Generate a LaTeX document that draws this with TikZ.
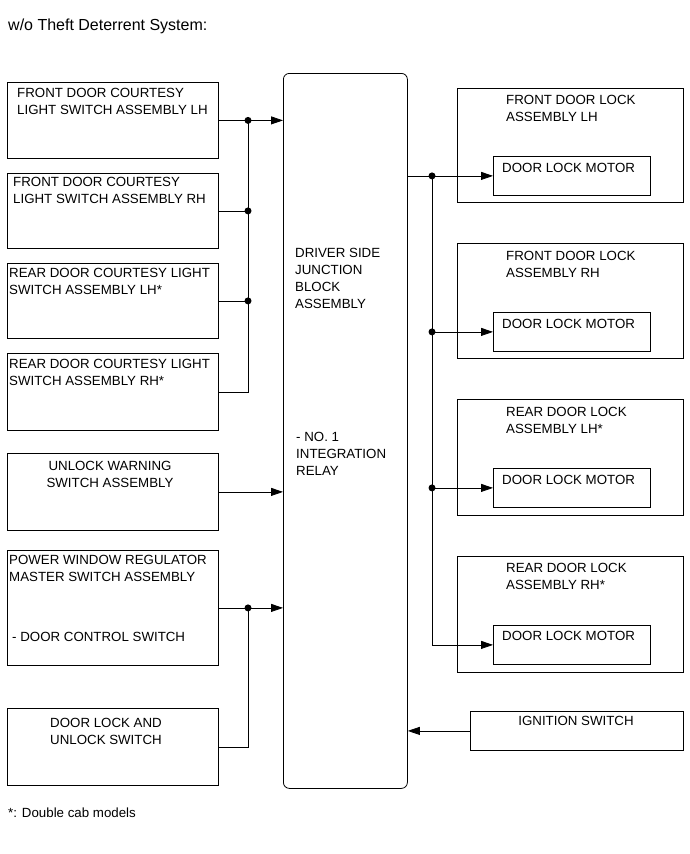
\documentclass[tikz,border=0pt]{standalone}
\usepackage{fontspec}
\setmainfont{Liberation Sans}
\usetikzlibrary{arrows.meta,positioning}

\begin{document}
\begin{tikzpicture}[x=1pt, y=-1pt, >={Triangle[length=12pt,width=8pt]},
  box/.style={draw, line width=0.8pt, inner sep=0pt, anchor=north west},
  txt/.style={align=left, inner sep=0pt, anchor=north west, font=\fontsize{13.3}{17}\selectfont},
  ctxt/.style={txt, align=center, anchor=north},
  dot/.style={circle, fill, inner sep=0pt, minimum size=7pt},
  wire/.style={line width=0.8pt}]
  \useasboundingbox (0,0) rectangle (690,854);

  \node[txt, font=\fontsize{16}{19}\selectfont] (title) at (8,19) {w/o Theft Deterrent System:};

  % switches on the left
  \node[box, minimum width=211, minimum height=76] (cl) at (7,82) {};
  \node[box, minimum width=211, minimum height=75] (cr) at (7,173) {};
  \node[box, minimum width=211, minimum height=75] (rl) at (7,263) {};
  \node[box, minimum width=211, minimum height=77] (rr) at (7,353) {};
  \node[box, minimum width=211, minimum height=77] (uw) at (7,453) {};
  \node[box, minimum width=211, minimum height=115] (pw) at (7,550) {};
  \node[box, minimum width=211, minimum height=77] (dl) at (7,708) {};
  \node[txt] (cl-t) at (17,88) {FRONT DOOR COURTESY\\LIGHT SWITCH ASSEMBLY LH};
  \node[txt] (cr-t) at (13,177) {FRONT DOOR COURTESY\\LIGHT SWITCH ASSEMBLY RH};
  \node[txt] (rl-t) at (9,268) {REAR DOOR COURTESY LIGHT\\SWITCH ASSEMBLY LH*};
  \node[txt] (rr-t) at (9,359) {REAR DOOR COURTESY LIGHT\\SWITCH ASSEMBLY RH*};
  \node[ctxt] (uw-t) at (110,461) {UNLOCK WARNING\\SWITCH ASSEMBLY};
  \node[txt] (pw-t) at (9,555) {POWER WINDOW REGULATOR\\MASTER SWITCH ASSEMBLY};
  \node[txt] (pw-s) at (12,632) {- DOOR CONTROL SWITCH};
  \node[ctxt] (dl-t) at (106,718) {DOOR LOCK AND\\UNLOCK SWITCH};

  % junction block
  \node[box, rounded corners=6pt, minimum width=124, minimum height=715] (jb) at (283,73) {};
  \node[txt] (jb-t) at (295,248) {DRIVER SIDE\\JUNCTION\\BLOCK\\ASSEMBLY};
  \node[txt] (jb-s) at (296,432) {- NO. 1\\INTEGRATION\\RELAY};

  % door locks on the right
  \node[box, minimum width=226, minimum height=114] (fl) at (457,88) {};
  \node[box, minimum width=226, minimum height=115] (fr) at (457,243) {};
  \node[box, minimum width=226, minimum height=116] (rlk) at (457,399) {};
  \node[box, minimum width=226, minimum height=116] (rrk) at (457,556) {};
  \node[box, minimum width=157, minimum height=39] (mfl) at (493,156) {};
  \node[box, minimum width=157, minimum height=39] (mfr) at (493,312) {};
  \node[box, minimum width=157, minimum height=39] (mrl) at (493,468) {};
  \node[box, minimum width=157, minimum height=39] (mrr) at (493,625) {};
  \node[txt] (fl-t) at (506,95) {FRONT DOOR LOCK\\ASSEMBLY LH};
  \node[txt] (fr-t) at (506,251) {FRONT DOOR LOCK\\ASSEMBLY RH};
  \node[txt] (rlk-t) at (506,407) {REAR DOOR LOCK\\ASSEMBLY LH*};
  \node[txt] (rrk-t) at (506,563) {REAR DOOR LOCK\\ASSEMBLY RH*};
  \node[txt] (mfl-t) at (502,163) {DOOR LOCK MOTOR};
  \node[txt] (mfr-t) at (502,319) {DOOR LOCK MOTOR};
  \node[txt] (mrl-t) at (502,475) {DOOR LOCK MOTOR};
  \node[txt] (mrr-t) at (502,631) {DOOR LOCK MOTOR};
  \node[box, minimum width=213, minimum height=39] (ig) at (470,711) {};
  \node[ctxt] (ig-t) at (576,716) {IGNITION SWITCH};

  \node[txt] (note) at (8,808) {*: Double cab models};

  % left wiring
  \coordinate (lbus) at (248,0);
  \draw[wire,->] (cl.east) -- (jb.west |- cl.east);
  \draw[wire] (cr.east) -- (lbus |- cr.east);
  \draw[wire] (rl.east) -- (lbus |- rl.east);
  \draw[wire] (lbus |- cl.east) -- (lbus |- rr.east) -- (rr.east);
  \foreach \b in {cl,cr,rl} \node[dot] (d-\b) at (lbus |- \b.east) {};
  \draw[wire,->] (uw.east) -- (jb.west |- uw.east);
  \draw[wire,->] (pw.east) -- (jb.west |- pw.east);
  \draw[wire] (dl.east) -- (lbus |- dl.east) -- (lbus |- pw.east);
  \node[dot] (d-pw) at (lbus |- pw.east) {};

  % right wiring
  \coordinate (rbus) at (432,0);
  \draw[wire,->] (jb.east |- mfl.west) -- (mfl.west);
  \draw[wire] (rbus |- mfl.west) -- (rbus |- mrr.west);
  \foreach \m in {mfr,mrl,mrr} \draw[wire,->] (rbus |- \m.west) -- (\m.west);
  \foreach \m in {mfl,mfr,mrl} \node[dot] (d-\m) at (rbus |- \m.west) {};
  \draw[wire,->] (ig.west) -- (jb.east |- ig.west);
\end{tikzpicture}
\end{document}
